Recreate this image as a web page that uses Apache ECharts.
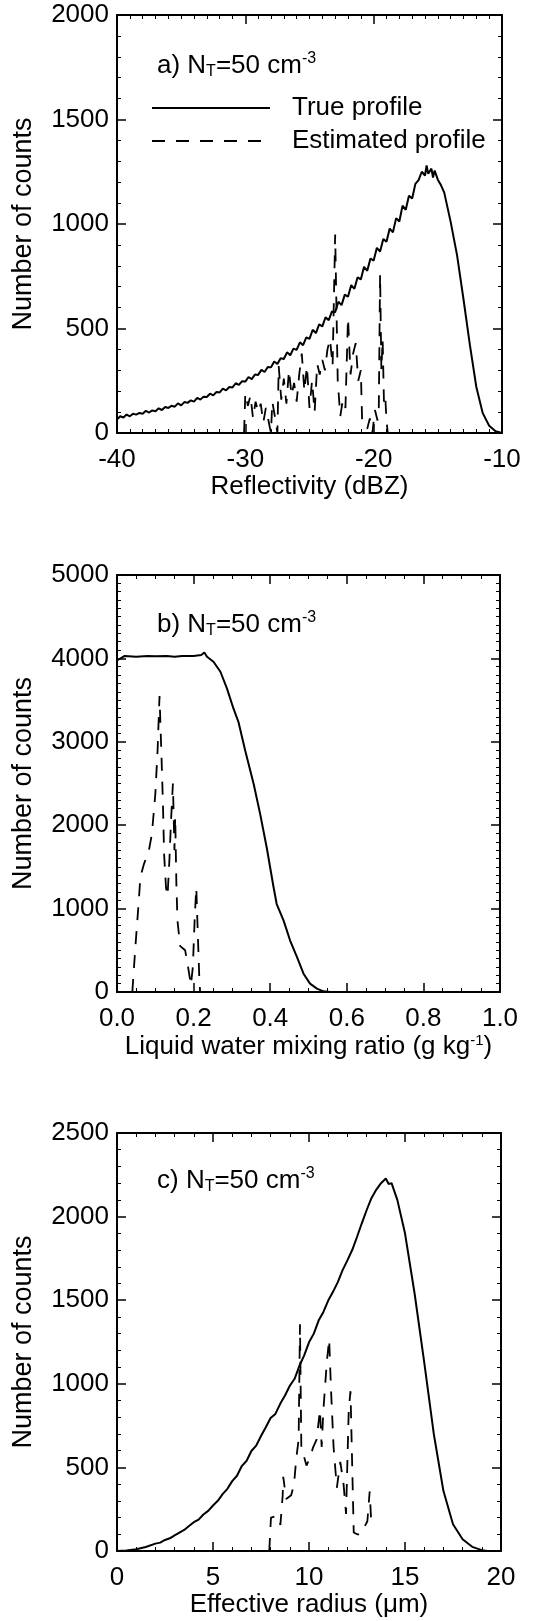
<!DOCTYPE html>
<html><head><meta charset="utf-8">
<script src="https://cdn.jsdelivr.net/npm/echarts@6/dist/echarts.min.js"></script>
<style>html,body{margin:0;padding:0;background:#fff}#c{width:556px;height:1621px}</style>
</head><body><div id="c"></div>
<script>
// ---- Panel a: Reflectivity (dBZ)
const aTrue = [[-40,65],[-39.75,80],[-39.5,74],[-39.25,88],[-39,80],[-38.75,92],[-38.5,88],[-38.25,96],[-38,92],[-37.75,106],[-37.5,98],[-37.25,108],[-37,104],[-36.75,118],[-36.5,110],[-36.25,124],[-36,120],[-35.75,130],[-35.5,126],[-35.25,142],[-35,132],[-34.75,148],[-34.5,144],[-34.25,156],[-34,150],[-33.75,168],[-33.5,160],[-33.25,174],[-33,172],[-32.75,188],[-32.5,180],[-32.25,196],[-32,194],[-31.75,212],[-31.5,204],[-31.25,220],[-31,218],[-30.75,238],[-30.5,230],[-30.25,248],[-30,246],[-29.75,268],[-29.5,258],[-29.25,280],[-29,278],[-28.75,302],[-28.5,292],[-28.25,316],[-28,314],[-27.75,342],[-27.5,330],[-27.25,358],[-27,354],[-26.75,386],[-26.5,372],[-26.25,404],[-26,398],[-25.75,434],[-25.5,420],[-25.25,458],[-25,450],[-24.75,494],[-24.5,478],[-24.25,520],[-24,510],[-23.75,554],[-23.5,540],[-23.25,582],[-23,578],[-22.75,628],[-22.5,612],[-22.25,662],[-22,652],[-21.75,708],[-21.5,690],[-21.25,745],[-21,735],[-20.75,795],[-20.5,776],[-20.25,835],[-20,825],[-19.75,886],[-19.5,868],[-19.25,928],[-19,915],[-18.75,978],[-18.5,960],[-18.25,1028],[-18,1012],[-17.75,1088],[-17.5,1068],[-17.25,1135],[-17,1122],[-16.75,1192],[-16.5,1210],[-16.25,1250],[-16,1232],[-15.875,1280],[-15.75,1240],[-15.5,1265],[-15.375,1222],[-15.25,1256],[-15,1212],[-14.75,1185],[-14.5,1150],[-14,1010],[-13.5,850],[-13,640],[-12.5,420],[-12,220],[-11.5,95],[-11,35],[-10.5,8],[-10,0]];
const aEst = [[-30.1,0],[-30.0,190],[-29.8,130],[-29.6,180],[-29.4,70],[-29.2,150],[-29.0,100],[-28.8,140],[-28.6,50],[-28.4,120],[-28.2,60],[-28.0,0],[-27.9,150],[-27.7,80],[-27.5,0],[-27.4,320],[-27.2,160],[-27.0,260],[-26.8,140],[-26.6,300],[-26.4,180],[-26.2,240],[-26.0,150],[-25.8,280],[-25.6,380],[-25.4,200],[-25.2,320],[-25.0,120],[-24.8,250],[-24.6,100],[-24.4,330],[-24.2,280],[-24.0,350],[-23.8,300],[-23.6,400],[-23.4,450],[-23.2,320],[-23.0,950],[-22.9,600],[-22.8,250],[-22.6,80],[-22.4,160],[-22.2,120],[-22.0,550],[-21.8,280],[-21.6,380],[-21.4,430],[-21.2,250],[-21.0,300],[-20.9,60],[-20.7,40],[-20.5,20],[-20.3,70],[-20.1,0],[-19.9,110],[-19.7,60],[-19.6,120],[-19.5,760],[-19.4,300],[-19.3,450],[-19.2,150],[-19.1,180],[-19.0,60],[-18.9,0]];
// ---- Panel b: Liquid water mixing ratio
const bTrue = [[0,3975],[0.02,4030],[0.05,4020],[0.08,4030],[0.10,4025],[0.13,4030],[0.15,4020],[0.17,4030],[0.20,4030],[0.22,4040],[0.228,4070],[0.235,4020],[0.252,3960],[0.270,3840],[0.287,3640],[0.304,3400],[0.317,3240],[0.335,2890],[0.357,2490],[0.374,2130],[0.391,1730],[0.409,1250],[0.417,1055],[0.435,856],[0.452,617],[0.470,418],[0.487,219],[0.504,100],[0.522,40],[0.539,8],[0.557,0]];
const bEst = [[0.040,0],[0.048,540],[0.057,1100],[0.061,1380],[0.070,1530],[0.083,1690],[0.091,1890],[0.100,2370],[0.106,2900],[0.111,3550],[0.116,2850],[0.120,2250],[0.123,1650],[0.128,1250],[0.132,1150],[0.137,1600],[0.141,2050],[0.146,2500],[0.150,1700],[0.152,2100],[0.155,1300],[0.158,850],[0.165,550],[0.178,500],[0.187,260],[0.193,80],[0.198,300],[0.203,900],[0.207,1250],[0.211,700],[0.215,150],[0.217,0]];
// ---- Panel c: Effective radius
const cTrue = [[0,0],[0.5,3],[1,11],[1.5,24],[2,44],[2.25,50],[2.5,66],[2.75,76],[3,94],[3.25,110],[3.5,126],[3.75,150],[4,172],[4.25,188],[4.5,218],[4.75,240],[5,272],[5.25,300],[5.5,340],[5.75,372],[6,418],[6.25,450],[6.5,508],[6.75,540],[7,598],[7.25,630],[7.5,688],[7.75,740],[8,795],[8.25,820],[8.5,880],[8.75,930],[9,988],[9.25,1030],[9.5,1108],[9.75,1170],[10,1248],[10.25,1300],[10.5,1378],[10.75,1430],[11,1498],[11.25,1550],[11.5,1608],[11.75,1680],[12,1738],[12.25,1800],[12.5,1878],[12.75,1960],[13,2038],[13.25,2110],[13.5,2160],[13.75,2200],[14,2228],[14.15,2195],[14.3,2200],[14.6,2100],[15,1900],[15.5,1540],[16,1130],[16.5,700],[17,360],[17.5,160],[18,70],[18.5,25],[19,5],[19.3,0]];
const cEst = [[7.93,0],[8.02,200],[8.37,211],[8.51,156],[8.63,333],[8.66,444],[8.81,311],[9.07,333],[9.22,400],[9.34,556],[9.46,667],[9.53,1356],[9.60,622],[9.69,622],[9.87,511],[10.04,556],[10.22,622],[10.40,667],[10.57,844],[10.66,622],[10.75,844],[10.93,1133],[11.05,1267],[11.15,956],[11.28,622],[11.45,378],[11.63,533],[11.80,400],[11.93,222],[12.07,844],[12.16,956],[12.25,511],[12.33,111],[12.51,100],[12.69,100],[13.04,178],[13.16,356],[13.25,156]];

const legendNames = ['True profile', 'Estimated profile'];
const xNames = ['Reflectivity (dBZ)', 'Liquid water mixing ratio (g kg{p|-1})', 'Effective radius (\u03bcm)'];
const yName = 'Number of counts';
const panelLetters = ['a)', 'b)', 'c)'];

const FONT = 'Liberation Sans';
const FS = 26;
const grids = [
  {left:117, top:15, width:385, height:418},
  {left:117, top:575, width:383, height:417},
  {left:117, top:1133, width:384, height:418}
];
const xCfg = [
  {min:-40, max:-10, interval:10, minor:10, fmt: v => String(v)},
  {min:0, max:1, interval:0.2, minor:4, fmt: v => v.toFixed(1)},
  {min:0, max:20, interval:5, minor:5, fmt: v => String(v)}
];
const yCfg = [
  {min:0, max:2000, interval:500, minor:5},
  {min:0, max:5000, interval:1000, minor:10},
  {min:0, max:2500, interval:500, minor:5}
];
const lineAx = {show:true, onZero:false, lineStyle:{color:'#000', width:2}};
const tick = {show:true, inside:true, length:9, lineStyle:{color:'#000', width:1.5}};
const mtick = n => ({show:true, splitNumber:n, length:4, lineStyle:{color:'#000', width:1}});
const supRich = {p:{fontSize:15, fontFamily:FONT, color:'#000', padding:[0,0,13,0]}};

const xAxis = [], yAxis = [];
for (let i = 0; i < 3; i++) {
  const xc = xCfg[i], yc = yCfg[i];
  xAxis.push({type:'value', gridIndex:i, position:'bottom', min:xc.min, max:xc.max, interval:xc.interval,
    axisLine:lineAx, axisTick:tick, minorTick:mtick(xc.minor), splitLine:{show:false},
    axisLabel:{show:true, margin:14, formatter:xc.fmt, color:'#000', fontSize:FS, fontFamily:FONT},
    name:xNames[i], nameLocation:'middle', nameGap:41,
    nameTextStyle:{color:'#000', fontSize:FS, fontFamily:FONT, rich:supRich}});
  xAxis.push({type:'value', gridIndex:i, position:'top', min:xc.min, max:xc.max, interval:xc.interval,
    axisLine:lineAx, axisTick:tick, minorTick:mtick(xc.minor), splitLine:{show:false}, axisLabel:{show:false}});
  yAxis.push({type:'value', gridIndex:i, position:'left', min:yc.min, max:yc.max, interval:yc.interval,
    axisLine:lineAx, axisTick:tick, minorTick:mtick(yc.minor), splitLine:{show:false},
    axisLabel:{show:true, margin:8, formatter:v => String(v), color:'#000', fontSize:FS, fontFamily:FONT},
    name:yName, nameLocation:'middle', nameGap:80,
    nameTextStyle:{color:'#000', fontSize:27, fontFamily:FONT}});
  yAxis.push({type:'value', gridIndex:i, position:'right', min:yc.min, max:yc.max, interval:yc.interval,
    axisLine:lineAx, axisTick:tick, minorTick:mtick(yc.minor), splitLine:{show:false}, axisLabel:{show:false}});
}

const solid = {color:'#000', width:2, type:'solid'};
const dashed = {color:'#000', width:1.8, type:[13,11]};
const datasets = [[aTrue, aEst], [bTrue, bEst], [cTrue, cEst]];
const series = [];
for (let i = 0; i < 3; i++) {
  series.push({type:'line', name: i === 0 ? legendNames[0] : legendNames[0] + ' ' + i, xAxisIndex:2*i, yAxisIndex:2*i,
    data:datasets[i][0], showSymbol:false, symbol:'none', lineStyle:solid, itemStyle:{color:'#000'}, silent:true});
  series.push({type:'line', name: i === 0 ? legendNames[1] : legendNames[1] + ' ' + i, xAxisIndex:2*i, yAxisIndex:2*i,
    data:datasets[i][1], showSymbol:false, symbol:'none', lineStyle:dashed, itemStyle:{color:'#000'}, silent:true});
}

const annRich = {
  m:{fontSize:FS, fontFamily:FONT, color:'#000'},
  s:{fontSize:16, fontFamily:FONT, color:'#000', padding:[13,0,0,0]},
  p:{fontSize:16, fontFamily:FONT, color:'#000', padding:[0,0,13,0]}
};
const annOffsetTop = [36, 35, 33];
const graphic = grids.map((g, i) => ({
  type:'text', left:g.left + 40, top:g.top + annOffsetTop[i],
  style:{text:'{m|' + panelLetters[i] + ' N}{s|T}{m|=50 cm}{p|-3}', rich:annRich, fill:'#000'}
}));

const chart = echarts.init(document.getElementById('c'), null, {renderer:'canvas'});
chart.setOption({
  animation:false,
  backgroundColor:'#fff',
  grid:grids.map(g => Object.assign({containLabel:false}, g)),
  xAxis, yAxis, series, graphic,
  legend:{data:legendNames, selectedMode:false, orient:'vertical', left:146, top:89,
    itemWidth:118, itemHeight:14, itemGap:5, itemStyle:{opacity:0},
    textStyle:{color:'#000', fontSize:FS, fontFamily:FONT, lineHeight:28, padding:[0,0,0,17]}}
});
</script></body></html>
